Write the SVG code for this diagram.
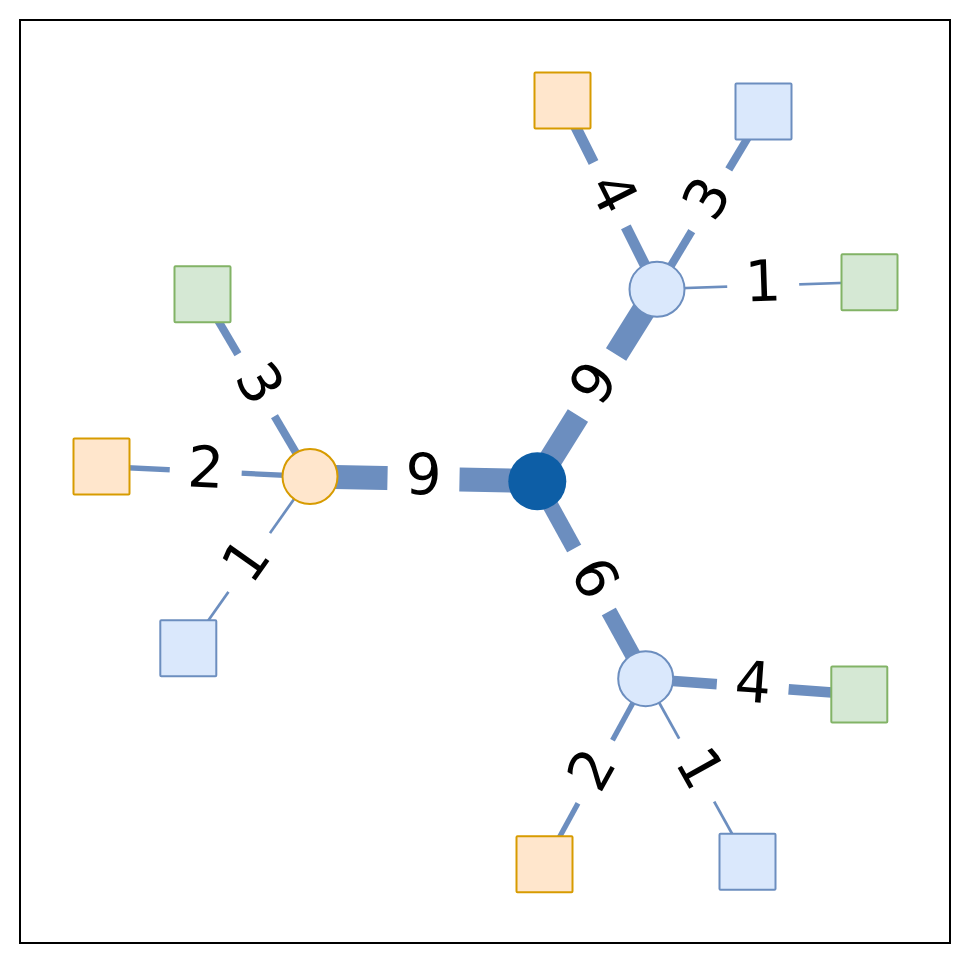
<svg xmlns="http://www.w3.org/2000/svg" width="970" height="964" viewBox="0 0 970 964">
  <style>
    .e { stroke: #6c8ebf; fill: none; stroke-linecap: butt; }
    .lb text { font-family: "DejaVu Sans", sans-serif; font-size: 57px; fill: #000000; text-anchor: middle; }
    .blue { fill: #dae8fc; stroke: #6c8ebf; stroke-width: 2; }
    .orange { fill: #ffe6cc; stroke: #d79b00; stroke-width: 2; }
    .green { fill: #d5e8d4; stroke: #82b366; stroke-width: 2; }
    .hub { fill: #0d5ea6; }
  </style>
  <defs>
    <!-- white rounded label box, centred on the edge midpoint -->
    <rect id="lbox" x="-36" y="-44" width="72" height="88" rx="17" ry="17" fill="#ffffff"/>
  </defs>

  <rect x="20" y="20" width="930" height="923" fill="#ffffff" stroke="#000000" stroke-width="2"/>

  <g id="connectors">
    <line class="e" x1="537" y1="481" x2="310" y2="476.5" stroke-width="24"/>
    <line class="e" x1="537" y1="481" x2="657" y2="289" stroke-width="24"/>
    <line class="e" x1="537" y1="481" x2="646" y2="679" stroke-width="16"/>
    <line class="e" x1="657" y1="289" x2="562.5" y2="100.5" stroke-width="10.7"/>
    <line class="e" x1="657" y1="289" x2="763.5" y2="111.5" stroke-width="8"/>
    <line class="e" x1="657" y1="289" x2="869.5" y2="282" stroke-width="2.7"/>
    <line class="e" x1="310" y1="476.5" x2="202.5" y2="294" stroke-width="8"/>
    <line class="e" x1="310" y1="476.5" x2="101.5" y2="466.5" stroke-width="5.3"/>
    <line class="e" x1="310" y1="476.5" x2="188.5" y2="648.5" stroke-width="2.7"/>
    <line class="e" x1="646" y1="679" x2="859.5" y2="694.5" stroke-width="10.7"/>
    <line class="e" x1="646" y1="679" x2="544.5" y2="864.5" stroke-width="5.3"/>
    <line class="e" x1="646" y1="679" x2="747.5" y2="861.5" stroke-width="2.7"/>

    <!-- edge weights, rotated along their edges -->
    <g class="lb" transform="translate(423.5,478.8) rotate(1.1)"><use href="#lbox"/><text y="15.5">9</text></g>
    <g class="lb" transform="translate(597,385) rotate(-58)"><use href="#lbox"/><text y="15.5">9</text></g>
    <g class="lb" transform="translate(591.5,580) rotate(61.2)"><use href="#lbox"/><text y="15.5">6</text></g>
    <g class="lb" transform="translate(609.7,194.7) rotate(63.4)"><use href="#lbox"/><text y="15.5">4</text></g>
    <g class="lb" transform="translate(710.2,200.2) rotate(-59.1)"><use href="#lbox"/><text y="15.5">3</text></g>
    <g class="lb" transform="translate(763.2,285.5) rotate(-1.9)"><use href="#lbox"/><text y="15.5">1</text></g>
    <g class="lb" transform="translate(256.2,385.2) rotate(59.5)"><use href="#lbox"/><text y="15.5">3</text></g>
    <g class="lb" transform="translate(205.7,471.5) rotate(2.7)"><use href="#lbox"/><text y="15.5">2</text></g>
    <g class="lb" transform="translate(249.2,562.5) rotate(-54.8)"><use href="#lbox"/><text y="15.5">1</text></g>
    <g class="lb" transform="translate(752.7,686.7) rotate(4.2)"><use href="#lbox"/><text y="15.5">4</text></g>
    <g class="lb" transform="translate(595.2,771.7) rotate(-61.2)"><use href="#lbox"/><text y="15.5">2</text></g>
    <g class="lb" transform="translate(696.7,770.2) rotate(61)"><use href="#lbox"/><text y="15.5">1</text></g>
  </g>

  <g id="hub"><circle class="hub" cx="537.3" cy="481.3" r="29"/></g>
  <g id="n-orange"><circle class="orange" cx="310" cy="476.5" r="27.5"/></g>
  <g id="n-top"><circle class="blue" cx="657" cy="289.3" r="27.5"/></g>
  <g id="n-bottom"><circle class="blue" cx="645.7" cy="678.7" r="27.5"/></g>

  <g id="leaf-top-orange"><rect class="orange" x="534.5" y="72.5" width="56" height="56" rx="1"/></g>
  <g id="leaf-top-blue"><rect class="blue" x="735.5" y="83.5" width="56" height="56" rx="1"/></g>
  <g id="leaf-top-green"><rect class="green" x="841.5" y="254.2" width="56" height="56" rx="1"/></g>
  <g id="leaf-left-green"><rect class="green" x="174.5" y="266.2" width="56" height="56" rx="1"/></g>
  <g id="leaf-left-orange"><rect class="orange" x="73.5" y="438.5" width="56" height="56" rx="1"/></g>
  <g id="leaf-left-blue"><rect class="blue" x="160.3" y="620.3" width="56" height="56" rx="1"/></g>
  <g id="leaf-bottom-green"><rect class="green" x="831.3" y="666.5" width="56" height="56" rx="1"/></g>
  <g id="leaf-bottom-orange"><rect class="orange" x="516.5" y="836.3" width="56" height="56" rx="1"/></g>
  <g id="leaf-bottom-blue"><rect class="blue" x="719.5" y="833.7" width="56" height="56" rx="1"/></g>
</svg>
